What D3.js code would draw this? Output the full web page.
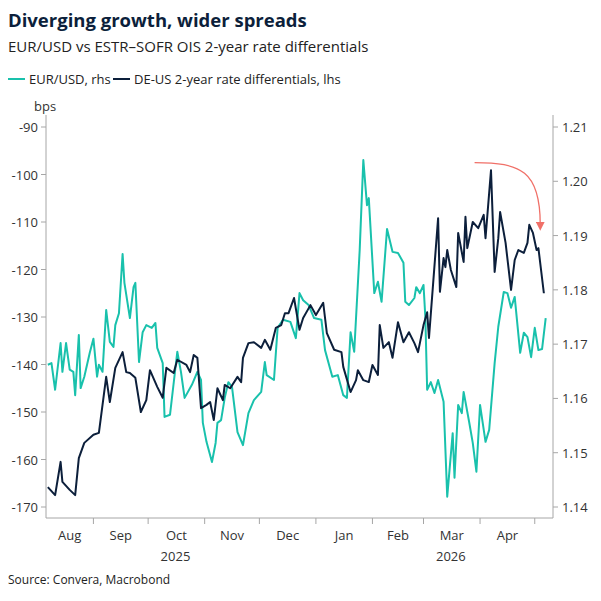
<!DOCTYPE html>
<html><head><meta charset="utf-8">
<script src="https://cdn.jsdelivr.net/npm/d3@7"></script>
<style>body{margin:0;background:#fff}text{font-family:"Open Sans",sans-serif}</style>
</head><body><svg id="c" width="601" height="601"></svg>
<script>
// day offsets from 2025-08-01
const spreadDays=[6,10,13,14,18,21,23,26,31,34,38,40,43,47,49,51,54,57,60,62,66,69,71,75,77,82,84,86,88,90,93,95,97,99,102,103,106,110,112,113,116,119,123,125,128,131,134,136,138,141,144,146,150,153,157,159,163,167,168,172,175,176,179,182,184,187,188,190,193,195,198,201,204,207,209,212,214,215,220,221,223,224,225,227,230,231,234,235,236,239,242,245,246,249,251,253,254,257,260,262,264,267,269,270,272,274,275,278];
const spreadValues=[-165.8,-167.5,-160.5,-164.7,-166.4,-167.5,-159.7,-156.5,-154.8,-154.4,-142.6,-147.9,-140.7,-137.4,-141.6,-141.8,-142.8,-150,-147.5,-141.2,-144.7,-147,-140.7,-141.8,-139,-140.1,-141.6,-138,-138.6,-149.2,-148.5,-147.9,-151.7,-145,-147.5,-144.3,-145,-142.6,-143.7,-138.6,-135.5,-135.3,-136.5,-134.8,-136.9,-132.3,-131.7,-129.2,-129.2,-126,-132.7,-130.2,-127.5,-129.6,-127,-133.4,-136.9,-137.4,-140.5,-145.8,-143.3,-141.2,-143.3,-143.7,-140.1,-142.2,-131.7,-136.5,-135.3,-138.6,-131.1,-135.3,-133.2,-135.5,-137.4,-131.7,-129,-134.4,-109.2,-124.7,-117.6,-119.5,-115.9,-120.1,-123.7,-112.3,-118.4,-108.9,-115.5,-110,-111.3,-108.5,-113.4,-99.1,-120.5,-113.4,-107.9,-114.4,-124.3,-118,-115.9,-116.5,-114.4,-110.6,-112.3,-115.9,-115.5,-125];
const fxDays=[6,8,10,13,14,16,18,20,21,23,24,26,29,31,33,34,36,38,40,42,43,45,47,48,51,53,54,56,58,60,63,65,66,69,70,73,77,79,81,85,88,90,91,93,96,98,99,101,103,105,107,110,113,116,119,123,125,126,130,132,135,139,142,144,146,149,152,156,158,162,165,168,170,172,174,177,179,181,182,185,187,189,192,195,198,201,202,204,207,208,210,212,213,214,216,218,220,223,225,228,229,231,233,234,237,239,241,243,246,248,251,253,256,258,260,262,265,267,269,271,273,275,277,279];
const fxValues=[1.1662,1.1665,1.1616,1.1702,1.1649,1.1702,1.1653,1.1649,1.1606,1.1717,1.1619,1.1640,1.1684,1.1710,1.1640,1.1662,1.1649,1.1763,1.1704,1.1695,1.1735,1.1757,1.1866,1.1813,1.1748,1.1805,1.1813,1.1667,1.1722,1.1735,1.1730,1.1739,1.1693,1.1665,1.1566,1.1570,1.1686,1.1649,1.1601,1.1625,1.1649,1.1634,1.1555,1.1520,1.1483,1.1518,1.1555,1.1560,1.1601,1.1630,1.1621,1.1538,1.1514,1.1573,1.1597,1.1612,1.1667,1.1643,1.1634,1.1730,1.1745,1.1741,1.1711,1.1794,1.1781,1.1772,1.1748,1.1745,1.1689,1.1640,1.1643,1.1606,1.1601,1.1722,1.1686,1.1873,1.2039,1.1956,1.1969,1.1794,1.1815,1.1778,1.1912,1.1870,1.1868,1.1850,1.1778,1.1772,1.1785,1.1805,1.1794,1.1809,1.1750,1.1616,1.1630,1.1610,1.1634,1.1594,1.1419,1.1536,1.1454,1.1588,1.1573,1.1612,1.1557,1.1518,1.1465,1.1588,1.1520,1.1542,1.1665,1.1732,1.1796,1.1794,1.1767,1.1787,1.1684,1.1721,1.1713,1.1676,1.1730,1.1689,1.1691,1.1748];
const leftTicks=[-170,-160,-150,-140,-130,-120,-110,-100,-90];
const rightTicks=[1.14,1.15,1.16,1.17,1.18,1.19,1.20,1.21];
const monthLabels=["Aug","Sep","Oct","Nov","Dec","Jan","Feb","Mar","Apr"];
const yearLabels=[["2025","2025-10-16"],["2026","2026-03-16"]];

const dayToDate=d=>new Date(2025,7,1+d);
const svg=d3.select("#c");
const L=46,R=553,T=115,B=518;
const x=d3.scaleTime().domain([new Date(2025,7,6),new Date(2026,4,11)]).range([L,R]);
const yL=d3.scaleLinear().domain([-170,-90]).range([507,127]);
const yR=d3.scaleLinear().domain([1.14,1.21]).range([507,127]);
const teal="#19c1ac",navy="#0c1f3b",grey="#a6a6a6",txt="#333";

svg.append("text").attr("x",8).attr("y",27).attr("font-size",18.5).attr("font-weight",700).attr("fill","#0c1f3b").text("Diverging growth, wider spreads");
svg.append("text").attr("x",8).attr("y",52).attr("font-size",15).attr("fill","#222").text("EUR/USD vs ESTR–SOFR OIS 2-year rate differentials");
const lg=svg.append("g");
lg.append("line").attr("x1",8).attr("x2",25).attr("y1",79).attr("y2",79).attr("stroke",teal).attr("stroke-width",2);
lg.append("text").attr("x",29).attr("y",84).attr("font-size",13).attr("fill","#222").text("EUR/USD, rhs");
lg.append("line").attr("x1",113).attr("x2",130).attr("y1",79).attr("y2",79).attr("stroke",navy).attr("stroke-width",2);
lg.append("text").attr("x",134).attr("y",84).attr("font-size",13).attr("fill","#222").text("DE-US 2-year rate differentials, lhs");
svg.append("text").attr("x",34).attr("y",111).attr("font-size",13).attr("fill",txt).text("bps");

svg.append("line").attr("x1",L).attr("x2",L).attr("y1",T).attr("y2",B).attr("stroke",grey);
svg.append("line").attr("x1",R).attr("x2",R).attr("y1",T).attr("y2",B).attr("stroke",grey);
svg.append("line").attr("x1",L).attr("x2",R).attr("y1",B).attr("y2",B).attr("stroke",grey);
leftTicks.forEach(v=>{
  svg.append("line").attr("x1",L-5).attr("x2",L).attr("y1",yL(v)).attr("y2",yL(v)).attr("stroke",grey);
  svg.append("text").attr("x",L-8).attr("y",yL(v)+5).attr("text-anchor","end").attr("font-size",13).attr("fill",txt).text(v<0?"-"+Math.abs(v):v);
});
rightTicks.forEach(v=>{
  svg.append("line").attr("x1",R).attr("x2",R+5).attr("y1",yR(v)).attr("y2",yR(v)).attr("stroke",grey);
  svg.append("text").attr("x",R+9).attr("y",yR(v)+5).attr("font-size",13).attr("fill",txt).text(v.toFixed(2));
});
const months=d3.timeMonth.range(new Date(2025,8,1),new Date(2026,4,2));
months.forEach(m=>svg.append("line").attr("x1",x(m)).attr("x2",x(m)).attr("y1",B).attr("y2",B+6).attr("stroke",grey));
monthLabels.forEach((t,i)=>{
  const s=new Date(2025,7+i,1),e=new Date(2025,8+i,1);
  const cx=(Math.max(x(s),L)+Math.min(x(e),R))/2;
  svg.append("text").attr("x",cx).attr("y",540).attr("text-anchor","middle").attr("font-size",13).attr("fill",txt).text(t);
});
yearLabels.forEach(([t,d])=>svg.append("text").attr("x",x(new Date(d))).attr("y",561).attr("text-anchor","middle").attr("font-size",13).attr("fill",txt).text(t));
svg.append("text").attr("x",8).attr("y",584).attr("font-size",12).attr("fill","#222").text("Source: Convera, Macrobond");

const fx=fxDays.map((d,i)=>[dayToDate(d),fxValues[i]]);
const sp=spreadDays.map((d,i)=>[dayToDate(d),spreadValues[i]]);
svg.append("path").attr("d",d3.line().x(d=>x(d[0])).y(d=>yR(d[1]))(fx)).attr("fill","none").attr("stroke",teal).attr("stroke-width",2).attr("stroke-linejoin","round");
svg.append("path").attr("d",d3.line().x(d=>x(d[0])).y(d=>yL(d[1]))(sp)).attr("fill","none").attr("stroke",navy).attr("stroke-width",2).attr("stroke-linejoin","round");

const ax0=x(dayToDate(240)),ay0=yL(-97.5),ax1=x(dayToDate(276)),ay1=yL(-110.5);
svg.append("defs").append("marker").attr("id","ah").attr("viewBox","0 0 10 10").attr("refX",3).attr("refY",5).attr("markerWidth",7).attr("markerHeight",7).attr("orient","auto")
  .append("path").attr("d","M0,0L10,5L0,10Z").attr("fill","#f07068");
svg.append("path").attr("d",`M${ax0},${ay0} C${ax1-20},${ay0} ${ax1},${ay0+8} ${ax1},${ay1}`).attr("fill","none").attr("stroke","#f07068").attr("stroke-width",1.3).attr("marker-end","url(#ah)");
</script></body></html>
